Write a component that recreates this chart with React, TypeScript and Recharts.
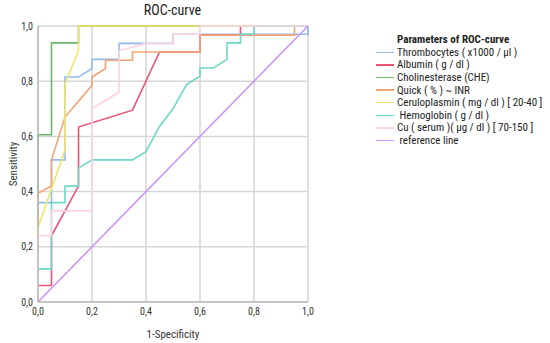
import { CartesianGrid, Label, Line, LineChart, XAxis, YAxis } from "recharts";

type Pt = [number, number];

// [1 - specificity, sensitivity]
const thrombocytes: Pt[] = [
  [0, 0], [0, 0.36], [0.05, 0.36], [0.05, 0.515], [0.1, 0.515], [0.1, 0.815],
  [0.15, 0.815], [0.2, 0.846], [0.2, 0.879], [0.3, 0.879], [0.3, 0.937],
  [0.5, 0.937], [0.5, 0.97], [1, 0.97], [1, 1],
];
const albumin: Pt[] = [
  [0, 0], [0, 0.06], [0.05, 0.06], [0.05, 0.24], [0.15, 0.42], [0.15, 0.634],
  [0.35, 0.695], [0.45, 0.906], [0.6, 0.906], [0.6, 0.967], [0.75, 0.967],
  [0.75, 1], [1, 1],
];
const cholinesterase: Pt[] = [
  [0, 0], [0, 0.606], [0.05, 0.606], [0.05, 0.939], [0.15, 0.939], [0.15, 1], [1, 1],
];
const quick: Pt[] = [
  [0, 0], [0, 0.394], [0.05, 0.42], [0.05, 0.515], [0.1, 0.67], [0.2, 0.785],
  [0.2, 0.815], [0.25, 0.846], [0.25, 0.876], [0.35, 0.876], [0.35, 0.906],
  [0.6, 0.906], [0.6, 0.967], [0.95, 0.967], [0.95, 1], [1, 1],
];
const ceruloplasmin: Pt[] = [
  [0, 0], [0, 0.27], [0.1, 0.55], [0.1, 0.79], [0.15, 0.91], [0.15, 1], [1, 1],
];
const hemoglobin: Pt[] = [
  [0, 0], [0, 0.12], [0.05, 0.12], [0.05, 0.36], [0.1, 0.36], [0.1, 0.42],
  [0.15, 0.42], [0.15, 0.485], [0.2, 0.515], [0.35, 0.515], [0.4, 0.545],
  [0.45, 0.636], [0.5, 0.7], [0.55, 0.788], [0.6, 0.818], [0.6, 0.848],
  [0.65, 0.848], [0.7, 0.879], [0.7, 0.939], [0.75, 0.939], [0.75, 0.97],
  [0.8, 0.97], [0.8, 1], [1, 1],
];
const cuSerum: Pt[] = [
  [0, 0], [0, 0.24], [0.05, 0.24], [0.05, 0.33], [0.2, 0.33], [0.2, 0.7],
  [0.3, 0.76], [0.3, 0.91], [0.4, 0.937], [0.5, 0.937], [0.5, 0.97],
  [0.6, 0.97], [0.6, 1], [1, 1],
];
const referenceLine: Pt[] = [[0, 0], [1, 1]];

const ticks = [0, 0.2, 0.4, 0.6, 0.8, 1];

const SERIES = [
  { id: "thr", name: "Thrombocytes ( x1000 / µl )", color: "#93bbec", points: thrombocytes },
  { id: "alb", name: "Albumin ( g / dl )", color: "#ea5574", points: albumin },
  { id: "che", name: "Cholinesterase (CHE)", color: "#6db56a", points: cholinesterase },
  { id: "qui", name: "Quick ( % ) ~ INR", color: "#f5a277", points: quick },
  { id: "cer", name: "Ceruloplasmin ( mg / dl ) [ 20-40 ]", color: "#efe56b", points: ceruloplasmin },
  { id: "hem", name: " Hemoglobin ( g / dl )", color: "#6cd8c6", points: hemoglobin },
  { id: "cu", name: "Cu ( serum )( µg / dl ) [ 70-150 ]", color: "#fdd3e2", points: cuSerum },
  { id: "ref", name: " reference line", color: "#c995fb", points: referenceLine },
];

const FONT = "'Liberation Sans Narrow', 'Roboto Condensed', 'Liberation Sans', sans-serif";
const fmt = (v: number) => v.toFixed(1).replace(".", ",");

function LegendBox() {
  return (
    <div style={{ position: "absolute", left: 376, top: 33, fontFamily: FONT, fontSize: 11, color: "#222" }}>
      <div style={{ marginLeft: 21, fontWeight: "bold", height: 13, lineHeight: "13px" }}>
        Parameters of ROC-curve
      </div>
      {SERIES.map((s) => (
        <div key={s.id} style={{ display: "flex", alignItems: "center", height: 12.6, whiteSpace: "pre" }}>
          <span style={{ width: 18, height: 1.5, background: s.color, marginRight: 3 }} />
          <span>{s.name}</span>
        </div>
      ))}
    </div>
  );
}

export default function App() {
  return (
    <div style={{ position: "absolute", left: 0, top: 0, width: 550, height: 343, background: "#fff" }}>
      <div
        style={{
          position: "absolute",
          left: 38,
          width: 269,
          top: 2,
          textAlign: "center",
          fontFamily: FONT,
          fontSize: 14,
          color: "#222",
        }}
      >
        ROC-curve
      </div>
      <LineChart width={550} height={343} margin={{ top: 26, right: 242, bottom: 11, left: 0 }}>
        <CartesianGrid stroke="#d6d6d6" strokeWidth={1.5} />
        <XAxis
          dataKey="fpr"
          type="number"
          domain={[0, 1]}
          ticks={ticks}
          tickFormatter={fmt}
          height={30}
          tickLine={false}
          tickSize={4}
          axisLine={{ stroke: "#bdbdbd", strokeWidth: 1.5 }}
          tick={{ fontSize: 10, fill: "#333", fontFamily: FONT }}
        >
          <Label value="1-Specificity" position="insideBottom" offset={-6} style={{ fontSize: 11, fill: "#333", fontFamily: FONT }} />
        </XAxis>
        <YAxis
          type="number"
          domain={[0, 1]}
          ticks={ticks}
          tickFormatter={fmt}
          width={38}
          tickLine={false}
          tickSize={3}
          axisLine={{ stroke: "#bdbdbd", strokeWidth: 1.5 }}
          tick={{ fontSize: 10, fill: "#333", fontFamily: FONT }}
        >
          <Label value="Sensitivity" angle={-90} position="insideLeft" offset={13} style={{ fontSize: 11, fill: "#333", fontFamily: FONT, textAnchor: "middle" }} />
        </YAxis>
        {SERIES.map((s) => (
          <Line
            key={s.id}
            data={s.points.map(([x, y]) => ({ fpr: x, tpr: y }))}
            dataKey="tpr"
            type="linear"
            stroke={s.color}
            strokeWidth={1.6}
            dot={false}
            activeDot={false}
            isAnimationActive={false}
          />
        ))}
      </LineChart>
      <LegendBox />
    </div>
  );
}
